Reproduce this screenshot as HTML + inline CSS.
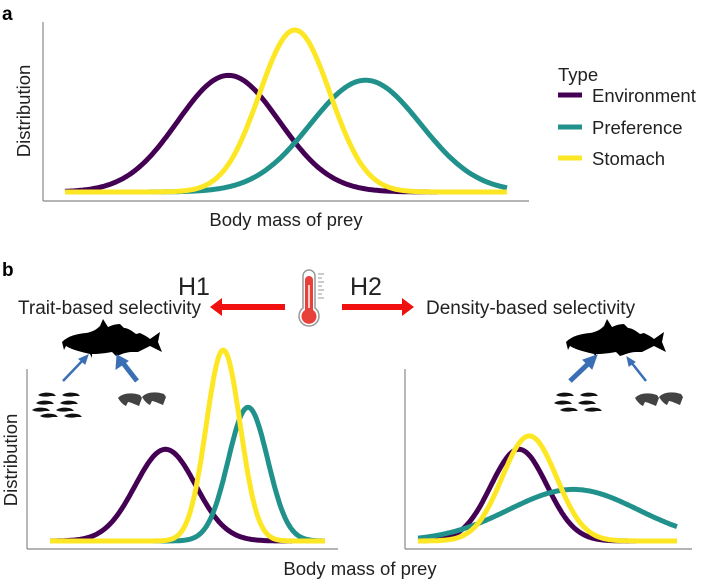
<!DOCTYPE html>
<html><head><meta charset="utf-8"><style>
body{margin:0;background:#fff;}
svg{display:block;font-family:"Liberation Sans",sans-serif;}
</style></head><body>
<svg id="fig" width="701" height="579" viewBox="0 0 701 579">
<text x="2" y="20" font-size="19" font-weight="bold">a</text>
<text x="2" y="276" font-size="19" font-weight="bold">b</text>
<g id="axesA">
<line x1="43" y1="22" x2="43" y2="201" stroke="#888" stroke-width="1.2"/>
<line x1="43" y1="201" x2="529" y2="201" stroke="#888" stroke-width="1.2"/>
</g>
<text transform="translate(30,111) rotate(-90)" text-anchor="middle" font-size="18.5" fill="#222">Distribution</text>
<text x="286" y="226" text-anchor="middle" font-size="18.5" fill="#222">Body mass of prey</text>
<g>
<text x="558" y="81" font-size="18.5" fill="#222">Type</text>
<line x1="558" y1="95" x2="582" y2="95" stroke="#440154" stroke-width="5"/>
<text x="592" y="102" font-size="18.5" fill="#222">Environment</text>
<line x1="558" y1="127" x2="582" y2="127" stroke="#21918c" stroke-width="5"/>
<text x="592" y="134" font-size="18.5" fill="#222">Preference</text>
<line x1="558" y1="158" x2="582" y2="158" stroke="#fde725" stroke-width="5"/>
<text x="592" y="165" font-size="18.5" fill="#222">Stomach</text>
</g>
<text x="18" y="314" font-size="19" fill="#222">Trait-based selectivity</text>
<text x="426" y="314" font-size="19" fill="#222">Density-based selectivity</text>
<text x="178" y="295" font-size="25" fill="#222">H1</text>
<text x="350" y="295" font-size="25" fill="#222">H2</text>
<path d="M285,304 L222,304 L222,298 L210,307 L222,316 L222,310 L285,310 Z" fill="#f01010"/>
<path d="M342,304 L402,304 L402,298 L414,307 L402,316 L402,310 L342,310 Z" fill="#f01010"/>
<g>
<path d="M303,276 a6,6 0 0 1 12,0 L315,308 a10,10 0 1 1 -12,0 Z" fill="#fff" stroke="#999" stroke-width="1.5"/>
<path d="M305,280 a4,4 0 0 1 8,0 L313,310 a7.5,7.5 0 1 1 -8,0 Z" fill="#e8403a"/>
<line x1="309" y1="285" x2="309" y2="308" stroke="#fff" stroke-width="1.5"/>
<g stroke="#999" stroke-width="1"><line x1="318" y1="274" x2="324" y2="274"/><line x1="318" y1="278" x2="322" y2="278"/><line x1="318" y1="282" x2="324" y2="282"/><line x1="318" y1="286" x2="322" y2="286"/><line x1="318" y1="290" x2="324" y2="290"/><line x1="318" y1="294" x2="322" y2="294"/><line x1="318" y1="298" x2="324" y2="298"/></g>
</g>
<defs>
<g id="fish"><path d="M0,24 C6,18 14,16 24,15 C30,14 34,12 38,8 L41,1 L46,9 C50,7 54,6 58,6 L62,10 C66,10 70,13 74,16 L78,15 C82,17 86,19 88,21 L98,14 L96,24 L100,34 L88,28 C84,30 80,32 76,34 L70,34 C64,34 58,37 54,38 L50,34 C44,35 38,36 30,36 L30,40 L28,36 C20,34 10,32 4,28 L2,32 L1,28 Z" fill="#000"/></g>
<g id="shrimpS"><path d="M0,3 C4,0 12,0 16,2 L18,4 L13,4 C8,5 3,5 0,3 Z" fill="#111"/></g>
<g id="shrimpL"><path d="M0,6 C4,1 14,0 22,3 L24,6 L21,14 C16,12 12,10 10,10 L8,14 C4,12 2,9 0,6 Z" fill="#222" opacity="0.85"/></g>
</defs>
<use href="#fish" transform="translate(62,318)"/>
<use href="#fish" transform="translate(566,318)"/>
<g stroke="#3a6fb5" fill="#3a6fb5">
<line x1="63" y1="381" x2="84" y2="359" stroke-width="2.5"/><path d="M88,355 L79,359 L85,364 Z"/>
<line x1="137" y1="381" x2="123" y2="363" stroke-width="5"/><path d="M117,355 L116,369 L128,361 Z"/>
<line x1="570" y1="381" x2="590" y2="362" stroke-width="5"/><path d="M597,355 L583,360 L592,369 Z"/>
<line x1="646" y1="381" x2="631" y2="362" stroke-width="2.5"/><path d="M627,357 L629,366 L635,362 Z"/>
</g>
<g>
<use href="#shrimpS" x="38" y="392"/><use href="#shrimpS" x="62" y="392"/><use href="#shrimpS" x="36" y="400"/><use href="#shrimpS" x="60" y="400"/><use href="#shrimpS" x="32" y="407"/><use href="#shrimpS" x="56" y="407"/><use href="#shrimpS" x="40" y="413"/><use href="#shrimpS" x="64" y="413"/>
</g>
<g><use href="#shrimpL" x="118" y="392"/><use href="#shrimpL" x="142" y="391"/></g>
<g>
<use href="#shrimpS" x="556" y="392"/><use href="#shrimpS" x="580" y="392"/><use href="#shrimpS" x="554" y="400"/><use href="#shrimpS" x="578" y="400"/><use href="#shrimpS" x="560" y="407"/><use href="#shrimpS" x="584" y="407"/>
</g>
<g><use href="#shrimpL" x="635" y="392"/><use href="#shrimpL" x="659" y="391"/></g>
<g>
<line x1="27" y1="369" x2="27" y2="549" stroke="#888" stroke-width="1.2"/>
<line x1="27" y1="549" x2="338" y2="549" stroke="#888" stroke-width="1.2"/>
<line x1="405" y1="369" x2="405" y2="549" stroke="#888" stroke-width="1.2"/>
<line x1="405" y1="549" x2="692" y2="549" stroke="#888" stroke-width="1.2"/>
</g>
<text transform="translate(17,460) rotate(-90)" text-anchor="middle" font-size="18.5" fill="#222">Distribution</text>
<text x="360" y="575" text-anchor="middle" font-size="18.5" fill="#222">Body mass of prey</text>
<g id="curves"></g>
</svg>
<script>
const series = ['environment','preference','stomach'];
const colors = ['#440154','#21918c','#fde725'];
const meansA = [0.37, 0.68, 0.52];
const sdsA = [0.115, 0.125, 0.08];
const heightsA = [0.72, 0.69, 1.0];
const meansBL = [0.42, 0.72, 0.63];
const sdsBL = [0.11, 0.072, 0.062];
const heightsBL = [0.48, 0.7, 1.0];
const meansBR = [0.39, 0.60, 0.43];
const sdsBR = [0.108, 0.25, 0.105];
const heightsBR = [0.48, 0.27, 0.55];

const panels = [
  {name:'panel-a', m:meansA, s:sdsA, h:heightsA, x0:65, x1:507, base:192, top:30},
  {name:'panel-b-left', m:meansBL, s:sdsBL, h:heightsBL, x0:50, x1:325, base:541, top:350},
  {name:'panel-b-right', m:meansBR, s:sdsBR, h:heightsBR, x0:418, x1:677, base:541, top:350}
];
const g = document.getElementById('curves');
const NS = 'http://www.w3.org/2000/svg';
panels.forEach(p => {
  const xs = u => p.x0 + u*(p.x1-p.x0);
  const ys = v => p.base - v*(p.base-p.top);
  [0,1,2].forEach(i => {
    let d = '';
    for (let k=0;k<=200;k++){
      const u = k/200;
      const v = p.h[i]*Math.exp(-0.5*Math.pow((u-p.m[i])/p.s[i],2));
      d += (k?'L':'M') + xs(u).toFixed(1) + ',' + ys(v).toFixed(1);
    }
    const path = document.createElementNS(NS,'path');
    path.setAttribute('d', d);
    path.setAttribute('fill','none');
    path.setAttribute('stroke', colors[i]);
    path.setAttribute('stroke-width','5');
    path.setAttribute('stroke-linejoin','round');
    
    
    g.appendChild(path);
  });
});
</script>
</body></html>
